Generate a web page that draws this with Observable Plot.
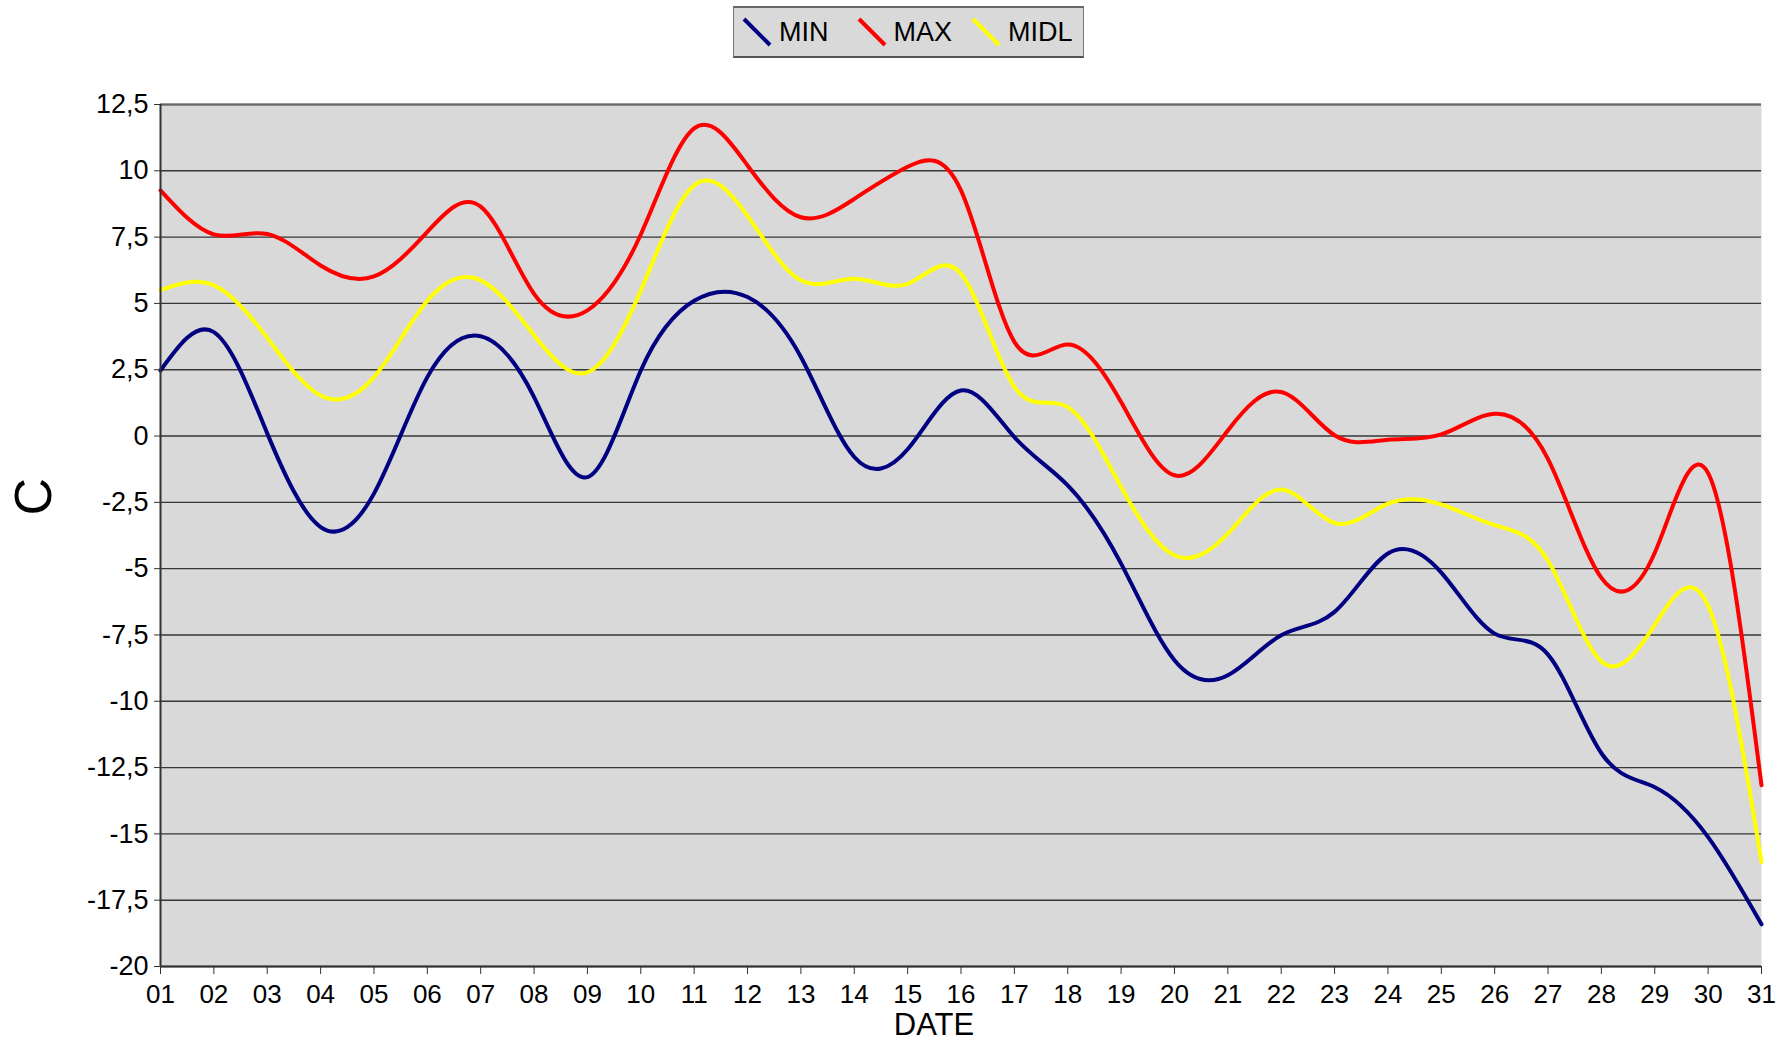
<!DOCTYPE html>
<html>
<head>
<meta charset="utf-8">
<script src="https://cdn.jsdelivr.net/npm/d3@7"></script>
<script src="https://cdn.jsdelivr.net/npm/@observablehq/plot@0.6"></script>
<style>
  html, body { margin: 0; padding: 0; background: #fff; }
  body { width: 1789px; height: 1042px; overflow: hidden; font-family: "Liberation Sans", Arial, sans-serif; }
  #top { position: relative; height: 70px; }
  #legend { position: absolute; left: 733px; top: 6px; width: 349px; height: 48px;
    background: #d9d9d9; border: 1px solid #777; border-top: 2px solid #666; border-bottom: 2px solid #555;
    font-size: 27px; color: #000; }
  .item { position: absolute; top: 0; height: 48px; display: flex; align-items: center; }
  .item svg { margin-right: 7px; }
</style>
</head>
<body>
<div id="top"><div id="legend"></div></div>
<div id="chart"></div>
<script>
const days = [1,2,3,4,5,6,7,8,9,10,11,12,13,14,15,16,17,18,19,20,21,22,23,24,25,26,27,28,29,30,31];
const dayLabels = ["01","02","03","04","05","06","07","08","09","10","11","12","13","14","15","16","17","18","19","20","21","22","23","24","25","26","27","28","29","30","31"];
const minT = [2.47, 3.92, 0.1, -3.43, -2.17, 2.22, 3.76, 1.47, -1.55, 2.47, 5.1, 5.24, 2.98, -0.79, -0.5, 1.72, -0.04, -1.86, -4.81, -8.45, -9.02, -7.51, -6.63, -4.43, -5.15, -7.45, -8.24, -11.96, -13.24, -15.12, -18.41];
const maxT = [9.26, 7.6, 7.62, 6.43, 6.02, 7.7, 8.65, 5.36, 4.74, 7.6, 11.6, 10.2, 8.25, 8.94, 10.15, 9.26, 3.55, 3.45, 1.28, -1.48, 0.21, 1.66, 0.03, -0.14, 0.06, 0.84, -0.87, -5.35, -4.4, -1.4, -13.17];
const midT = [5.5, 5.68, 3.7, 1.53, 2.22, 5.1, 5.87, 3.8, 2.4, 5.49, 9.45, 8.3, 5.87, 5.93, 5.74, 6.12, 1.85, 1.09, -1.92, -4.5, -3.68, -2.02, -3.28, -2.55, -2.58, -3.36, -4.7, -8.5, -7.12, -6.4, -16.06];
const seriesNames = ["MIN", "MAX", "MIDL"];
const seriesColors = ["#000080", "#ff0000", "#ffff00"];
const yTicks = [12.5, 10, 7.5, 5, 2.5, 0, -2.5, -5, -7.5, -10, -12.5, -15, -17.5, -20];

const seriesValues = [minT, maxT, midT];
const rows = [];
seriesNames.forEach((name, i) => {
  days.forEach((d, j) => rows.push({series: name, day: d, value: seriesValues[i][j]}));
});

// legend: equal-width entries
const legend = document.getElementById("legend");
seriesNames.forEach((name, i) => {
  const it = document.createElement("div");
  it.className = "item";
  it.style.left = (8 + i * 114.5) + "px";
  it.innerHTML = `<svg width="30" height="30"><line x1="2" y1="2" x2="28" y2="28" stroke="${seriesColors[i]}" stroke-width="4"/></svg><span>${name}</span>`;
  legend.appendChild(it);
});

const fmt = v => String(v).replace(".", ",");

const chart = Plot.plot({
  width: 1789,
  height: 972,
  marginLeft: 160,
  marginRight: 28,
  marginTop: 34,
  marginBottom: 76,
  style: {fontFamily: "'Liberation Sans', Arial, sans-serif", background: "#fff", color: "#000"},
  x: {domain: [1, 31], ticks: days, tickFormat: d => dayLabels[d - 1]},
  y: {domain: [-20, 12.5], ticks: yTicks, tickFormat: fmt},
  color: {domain: seriesNames, range: seriesColors},
  marks: [
    Plot.frame({fill: "#d9d9d9", stroke: null}),
    Plot.ruleY(yTicks, {stroke: "#1a1a1a", strokeWidth: 1.4, strokeOpacity: 0.85}),
    Plot.ruleY([12.5], {stroke: "#666", strokeWidth: 2}),
    Plot.line(rows, {x: "day", y: "value", z: "series", stroke: "series", strokeWidth: 4, curve: "natural"}),
    Plot.ruleX([1], {stroke: "#333", strokeWidth: 2}),
    Plot.ruleY([-20], {stroke: "#333", strokeWidth: 2}),
    Plot.axisX({ticks: days, tickFormat: d => dayLabels[d - 1], fontSize: 26, tickSize: 8, tickPadding: 10, label: null, stroke: "#333"}),
    Plot.axisY({ticks: yTicks, tickFormat: fmt, fontSize: 27, tickSize: 6, tickPadding: 6, label: null, stroke: "#333"}),
    Plot.text(["DATE"], {text: d => d, frameAnchor: "bottom", dx: -27, dy: 68, fontSize: 31, fill: "#000"}),
    Plot.text(["C"], {text: d => d, frameAnchor: "left", dx: -126, dy: -20, rotate: -90, fontSize: 52, fill: "#000"})
  ]
});
document.getElementById("chart").appendChild(chart);
</script>
</body>
</html>
